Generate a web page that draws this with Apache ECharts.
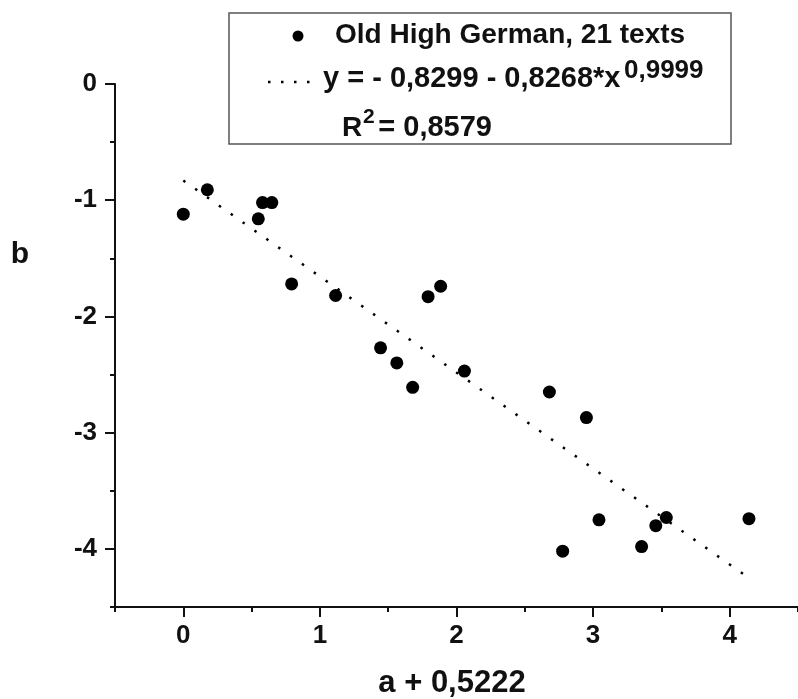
<!DOCTYPE html>
<html>
<head>
<meta charset="utf-8">
<script src="https://cdn.jsdelivr.net/npm/echarts@6/dist/echarts.min.js"></script>
<style>html,body{margin:0;padding:0;background:#fff}#c{width:798px;height:699px}</style>
</head>
<body>
<div id="c"></div>
<script>
// Data
var pointX = [0, 0.176, 0.58, 0.648, 0.549, 0.793, 1.115, 1.792, 1.884, 1.444, 1.563, 2.058, 1.679, 2.68, 2.951, 3.043, 2.777, 3.355, 3.459, 3.536, 4.141];
var pointY = [-1.12, -0.91, -1.02, -1.02, -1.16, -1.72, -1.82, -1.83, -1.74, -2.27, -2.40, -2.47, -2.61, -2.65, -2.87, -3.75, -4.02, -3.98, -3.80, -3.73, -3.74];
var fitX = [0, 4.14];
var fitY = [-0.83, -4.25];
var xTicks = [0, 1, 2, 3, 4];
var xMinorTicks = [-0.5, 0.5, 1.5, 2.5, 3.5, 4.5];
var yTicks = [0, -1, -2, -3, -4];
var yMinorTicks = [-0.5, -1.5, -2.5, -3.5, -4.5];
var seriesName = 'Old High German, 21 texts';
var xTitle = 'a + 0,5222';
var yTitle = 'b';

var FONT = "'Liberation Sans', Arial, sans-serif";
var INK = '#111';

var scatterData = pointX.map(function (x, i) { return [x, pointY[i]]; });
var fitData = fitX.map(function (x, i) { return [x, fitY[i]]; });

function mainAxis(min, max, ticks, isY) {
  return {
    type: 'value', min: min, max: max, interval: 0.5,
    position: isY ? 'left' : 'bottom',
    axisLine: { show: true, onZero: false, lineStyle: { color: INK, width: 2 } },
    axisTick: { show: true, length: 10, customValues: ticks, lineStyle: { color: INK, width: 2 } },
    axisLabel: { show: true, customValues: ticks, margin: isY ? 18 : 16,
      fontFamily: FONT, fontWeight: 'bold', fontSize: 26, color: INK },
    splitLine: { show: false }
  };
}
function minorAxis(min, max, ticks, isY) {
  return {
    type: 'value', min: min, max: max, interval: 0.5,
    position: isY ? 'left' : 'bottom',
    axisLine: { show: false, onZero: false },
    axisTick: { show: true, length: 5, customValues: ticks, lineStyle: { color: INK, width: 2 } },
    axisLabel: { show: false },
    splitLine: { show: false }
  };
}

var chart = echarts.init(document.getElementById('c'), null, { renderer: 'canvas' });
chart.setOption({
  animation: false,
  backgroundColor: '#fff',
  grid: { left: 115, right: -6, top: 84, bottom: 92, containLabel: false },
  xAxis: [mainAxis(-0.5, 4.5, xTicks, false), minorAxis(-0.5, 4.5, xMinorTicks, false)],
  yAxis: [mainAxis(-4.5, 0, yTicks, true), minorAxis(-4.5, 0, yMinorTicks, true)],
  series: [
    {
      name: 'fit', type: 'line', data: fitData, showSymbol: false, symbol: 'none',
      xAxisIndex: 0, yAxisIndex: 0,
      lineStyle: { color: '#000', width: 2.5, type: [2.5, 12], opacity: 1 }, z: 2
    },
    {
      name: seriesName, type: 'scatter', data: scatterData, symbol: 'circle', symbolSize: 13,
      xAxisIndex: 0, yAxisIndex: 0,
      itemStyle: { color: '#000', opacity: 1 }, z: 3
    }
  ],
  graphic: [
    { type: 'rect', shape: { x: 229, y: 13, width: 502, height: 131 },
      style: { fill: '#fff', stroke: '#555', lineWidth: 1.5 }, z: 10 },
    { type: 'circle', shape: { cx: 298, cy: 36, r: 5.5 }, style: { fill: '#000' }, z: 11 },
    { type: 'text', x: 335, y: 35, z: 11,
      style: { text: seriesName, font: 'bold 28px ' + FONT, fill: INK, textAlign: 'left', textVerticalAlign: 'middle' } },
    { type: 'line', shape: { x1: 268, y1: 82, x2: 318, y2: 82 }, z: 11,
      style: { stroke: '#000', lineWidth: 2.5, lineDash: [2.5, 10.5] } },
    { type: 'text', x: 323, y: 79, z: 11,
      style: { text: 'y = - 0,8299 - 0,8268*x', font: 'bold 29px ' + FONT, fill: INK, textAlign: 'left', textVerticalAlign: 'middle' } },
    { type: 'text', x: 624, y: 71, z: 11,
      style: { text: '0,9999', font: 'bold 26px ' + FONT, fill: INK, textAlign: 'left', textVerticalAlign: 'middle' } },
    { type: 'text', x: 342, y: 128, z: 11,
      style: { text: 'R', font: 'bold 28px ' + FONT, fill: INK, textAlign: 'left', textVerticalAlign: 'middle' } },
    { type: 'text', x: 363, y: 117, z: 11,
      style: { text: '2', font: 'bold 21px ' + FONT, fill: INK, textAlign: 'left', textVerticalAlign: 'middle' } },
    { type: 'text', x: 492, y: 128, z: 11,
      style: { text: '= 0,8579', font: 'bold 29px ' + FONT, fill: INK, textAlign: 'right', textVerticalAlign: 'middle' } },
    { type: 'text', x: 20, y: 255, z: 11,
      style: { text: yTitle, font: 'bold 30px ' + FONT, fill: INK, textAlign: 'center', textVerticalAlign: 'middle' } },
    { type: 'text', x: 452, y: 683, z: 11,
      style: { text: xTitle, font: 'bold 31px ' + FONT, fill: INK, textAlign: 'center', textVerticalAlign: 'middle' } }
  ]
});
</script>
</body>
</html>
